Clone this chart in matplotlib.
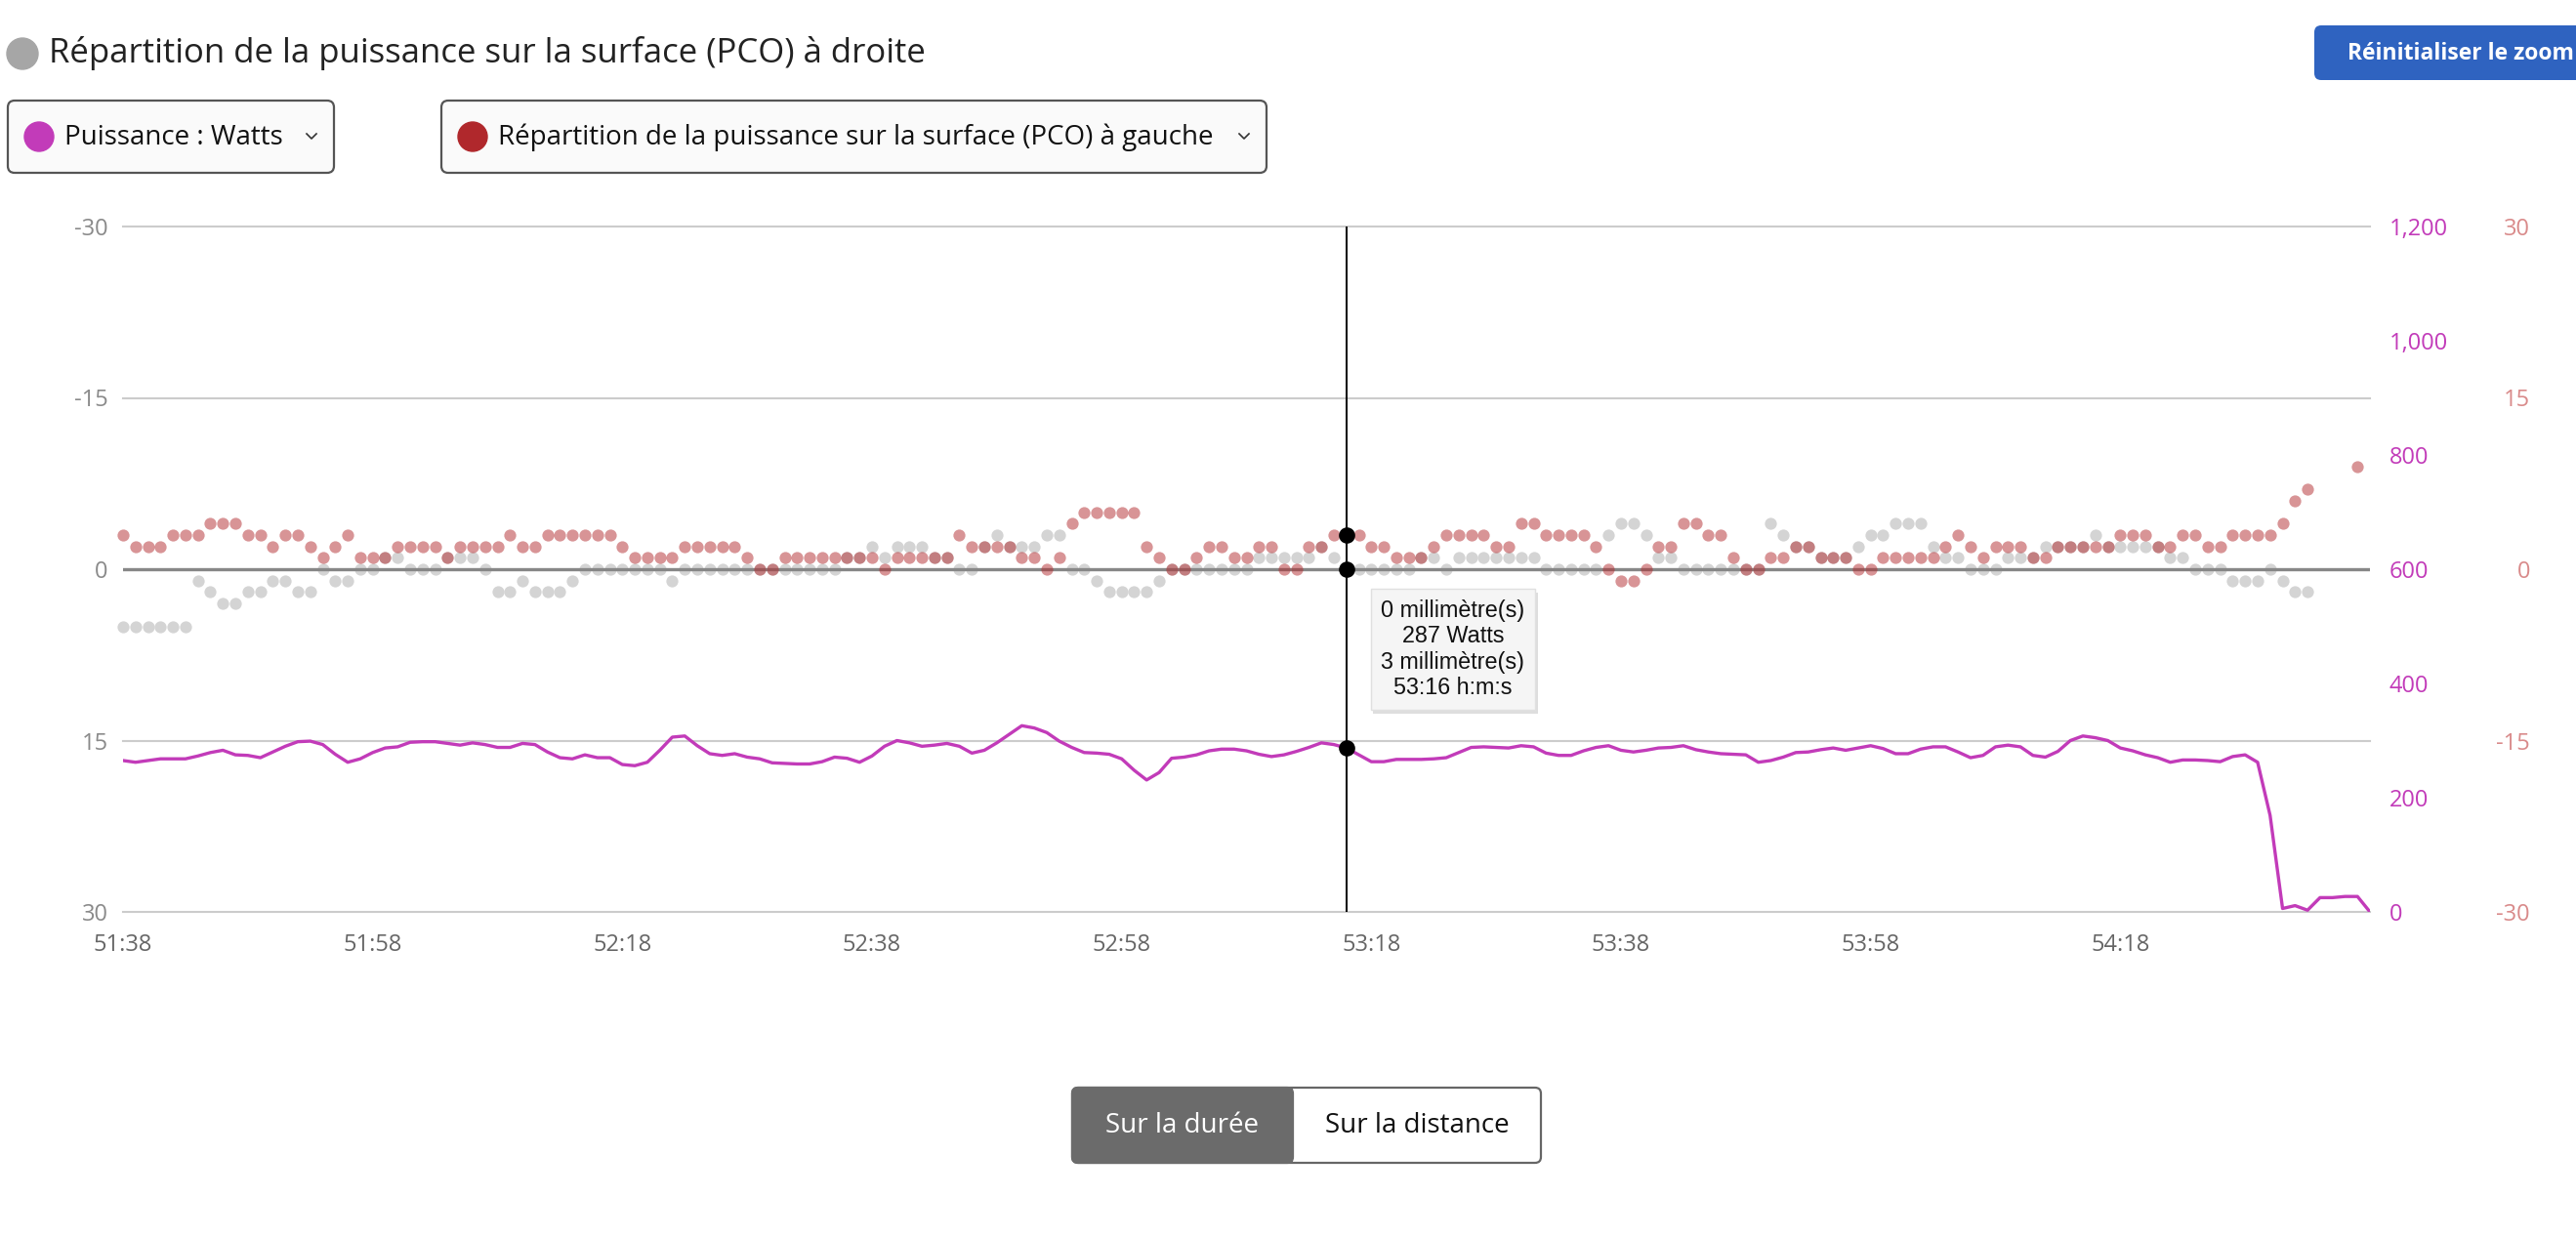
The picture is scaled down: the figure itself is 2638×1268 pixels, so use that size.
import numpy as np
import matplotlib.pyplot as plt
from matplotlib.patches import FancyBboxPatch, Circle, Rectangle
import matplotlib.patheffects as pe

plt.rcParams['font.family'] = ['Open Sans', 'DejaVu Sans']

W, H = 2638, 1268

# seconds since 51:38, one sample per second
power = [265, 262, 265, 268, 268, 268, 273, 279, 283, 275, 274, 270, 280, 290, 298, 299, 293, 276, 262, 268,
         279, 287, 289, 297, 298, 298, 295, 292, 296, 293, 288, 288, 295, 293, 280, 270, 268, 275, 270, 270,
         258, 256, 262, 283, 306, 308, 291, 277, 274, 277, 271, 268, 261, 260, 259, 259, 263, 271, 269, 262,
         273, 290, 300, 296, 290, 292, 295, 290, 278, 283, 296, 311, 326, 322, 314, 299, 288, 279, 278, 276,
         268, 248, 231, 244, 269, 271, 275, 282, 285, 285, 282, 276, 272, 275, 281, 288, 296, 293, 287, 275,
         263, 263, 267, 267, 267, 268, 270, 279, 288, 289, 288, 287, 291, 289, 278, 274, 274, 282, 288, 291,
         283, 280, 283, 287, 288, 291, 284, 280, 277, 276, 275, 262, 265, 271, 279, 280, 284, 287, 283, 287,
         291, 286, 277, 277, 285, 289, 289, 280, 270, 274, 289, 292, 289, 274, 271, 281, 300, 308, 305, 300,
         287, 282, 275, 270, 262, 266, 266, 265, 263, 272, 275, 262, 169, 6, 11, 3, 25, 25, 27, 27, 0]

# PCO droite (grey, left axis, inverted)
pco_right = [5, 5, 5, 5, 5, 5, 1, 2, 3, 3, 2, 2, 1, 1, 2, 2, 0, 1, 1, 0,
             0, -1, -1, 0, 0, 0, -1, -1, -1, 0, 2, 2, 1, 2, 2, 2, 1, 0, 0, 0,
             0, 0, 0, 0, 1, 0, 0, 0, 0, 0, 0, 0, 0, 0, 0, 0, 0, 0, -1, -1,
             -2, -1, -2, -2, -2, -1, -1, 0, 0, -2, -3, -2, -2, -2, -3, -3, 0, 0, 1, 2,
             2, 2, 2, 1, 0, 0, 0, 0, 0, 0, 0, -1, -1, -1, -1, -1, -2, -1, 0, 0,
             0, 0, 0, 0, -1, -1, 0, -1, -1, -1, -1, -1, -1, -1, 0, 0, 0, 0, 0, -3,
             -4, -4, -3, -1, -1, 0, 0, 0, 0, 0, 0, 0, -4, -3, -2, -2, -1, -1, -1, -2,
             -3, -3, -4, -4, -4, -2, -1, -1, 0, 0, 0, -1, -1, -1, -2, -2, -2, -2, -3, -2,
             -2, -2, -2, -2, -1, -1, 0, 0, 0, 1, 1, 1, 0, 1, 2, 2]

# PCO gauche (red, right axis)
pco_left = [3, 2, 2, 2, 3, 3, 3, 4, 4, 4, 3, 3, 2, 3, 3, 2, 1, 2, 3, 1,
            1, 1, 2, 2, 2, 2, 1, 2, 2, 2, 2, 3, 2, 2, 3, 3, 3, 3, 3, 3,
            2, 1, 1, 1, 1, 2, 2, 2, 2, 2, 1, 0, 0, 1, 1, 1, 1, 1, 1, 1,
            1, 0, 1, 1, 1, 1, 1, 3, 2, 2, 2, 2, 1, 1, 0, 1, 4, 5, 5, 5,
            5, 5, 2, 1, 0, 0, 1, 2, 2, 1, 1, 2, 2, 0, 0, 2, 2, 3, 3, 3,
            2, 2, 1, 1, 1, 2, 3, 3, 3, 3, 2, 2, 4, 4, 3, 3, 3, 3, 2, 0,
            -1, -1, 0, 2, 2, 4, 4, 3, 3, 1, 0, 0, 1, 1, 2, 2, 1, 1, 1, 0,
            0, 1, 1, 1, 1, 1, 2, 3, 2, 1, 2, 2, 2, 1, 1, 2, 2, 2, 2, 2,
            3, 3, 3, 2, 2, 3, 3, 2, 2, 3, 3, 3, 3, 4, 6, 7, None, None, None, 9]

x_ticks = [0, 20, 40, 60, 80, 100, 120, 140, 160]
x_labels = ['51:38', '51:58', '52:18', '52:38', '52:58', '53:18', '53:38', '53:58', '54:18']
mm_ticks = [-30, -15, 0, 15, 30]
watt_ticks = [0, 200, 400, 600, 800, 1000, 1200]
cursor = 98
cursor_label = '53:16'

t_power = np.arange(len(power))
t_right = np.arange(len(pco_right))
left = np.array([np.nan if v is None else v for v in pco_left], dtype=float)
t_left = np.arange(len(left))

c_power = '#c23bb9'
c_left = '#b22a2e'
c_grey = '#d4d4d4'

fig = plt.figure(figsize=(W / 100, H / 100), dpi=100)
ax = fig.add_axes([126 / W, 1 - 934 / H, (2427 - 126) / W, (934 - 232) / H])

# left axis: PCO droite, inverted
for v in [-30, -15, 15, 30]:
    ax.axhline(v, color='#cccccc', lw=1.5, zorder=1, clip_on=False)
ax.scatter(t_right, pco_right, s=78, color=c_grey, linewidths=0, zorder=2, clip_on=False)
ax.axhline(0, color='#878787', lw=2.4, zorder=3)
ax.set_xlim(0, 180)
ax.set_ylim(30, -30)
ax.set_yticks(mm_ticks)
ax.set_yticklabels([str(v) for v in mm_ticks])
ax.set_xticks(x_ticks)
ax.set_xticklabels(x_labels)
ax.tick_params(axis='y', length=0, pad=11, labelsize=17, labelcolor='#8a8a8a')
ax.tick_params(axis='x', length=0, pad=16, labelsize=17, labelcolor='#666666')

# power on the first right axis
ax2 = ax.twinx()
ax2.plot(t_power, power, color=c_power, lw=2.4, zorder=2)
ax2.set_ylim(0, 1200)
ax2.set_yticks(watt_ticks)
ax2.set_yticklabels([f'{v:,}' for v in watt_ticks])
ax2.tick_params(axis='y', length=0, pad=14, labelsize=17, labelcolor=c_power)

# PCO gauche on the second right axis
ax3 = ax.twinx()
ax3.scatter(t_left, left, s=78, color=c_left, alpha=0.5, linewidths=0, zorder=2, clip_on=False)
ax3.set_ylim(-30, 30)
ax3.set_yticks(mm_ticks)
ax3.set_yticklabels([str(v) for v in mm_ticks])
ax3.tick_params(axis='y', length=0, pad=118, labelsize=17, labelcolor='#d98a8a')
for lbl in ax3.get_yticklabels():
    lbl.set_horizontalalignment('right')

for a in (ax, ax2, ax3):
    for s in a.spines.values():
        s.set_visible(False)

# cursor + tooltip
ax3.axvline(cursor, color='black', lw=1.4, zorder=5)
ax.scatter([cursor], [pco_right[cursor]], s=120, color='black', zorder=6, clip_on=False)
ax2.scatter([cursor], [power[cursor]], s=120, color='black', zorder=6)
ax3.scatter([cursor], [left[cursor]], s=120, color='black', zorder=6)
tip = (f'{pco_right[cursor]} millimètre(s)\n{power[cursor]} Watts\n'
       f'{int(left[cursor])} millimètre(s)\n{cursor_label} h:m:s')
ann = ax3.annotate(tip, xy=(cursor, 0), xytext=(109, -82), textcoords='offset pixels',
                   ha='center', va='center', fontsize=16.8, family=['Liberation Sans', 'DejaVu Sans'],
                   linespacing=1.2, color='#111111', zorder=10,
                   bbox=dict(boxstyle='square,pad=0.45', fc='#f5f5f5', ec='#e0e0e0', lw=1))
ann.get_bbox_patch().set_path_effects([pe.SimplePatchShadow(offset=(2, -3), alpha=0.18), pe.Normal()])

# page elements around the chart
ui = fig.add_axes([0, 0, 1, 1], zorder=-1)
ui.set_xlim(0, W)
ui.set_ylim(H, 0)
ui.axis('off')

ui.add_patch(Circle((23, 55), 16, color='#a6a6a6'))
ui.text(50, 55, 'Répartition de la puissance sur la surface (PCO) à droite',
        fontsize=25, va='center', ha='left', color='#222222')


def dropdown(x0, w, dot, label):
    ui.add_patch(FancyBboxPatch((x0, 103), w, 74, boxstyle='round,pad=0,rounding_size=7',
                                fc='#fafafa', ec='#555555', lw=1.6))
    ui.add_patch(Circle((x0 + 32, 140), 15, color=dot))
    ui.text(x0 + 58, 141, label, fontsize=20, va='center', ha='left', color='#111111')
    cx = x0 + w - 23
    ui.plot([cx - 5, cx, cx + 5], [137, 142, 137], color='#333333', lw=1.2)


dropdown(8, 334, c_power, 'Puissance : Watts')
dropdown(452, 845, '#b0282c', 'Répartition de la puissance sur la surface (PCO) à gauche')

ui.add_patch(FancyBboxPatch((2370, 26), 300, 56, boxstyle='round,pad=0,rounding_size=7',
                            fc='#2f63c0', ec='none'))
ui.text(2404, 55, 'Réinitialiser le zoom', fontsize=16.5, fontweight='bold',
        color='white', va='center', ha='left')

ui.add_patch(FancyBboxPatch((1098, 1114), 480, 77, boxstyle='round,pad=0,rounding_size=6',
                            fc='white', ec='#666666', lw=1.6))
ui.add_patch(FancyBboxPatch((1098, 1114), 226, 77, boxstyle='round,pad=0,rounding_size=6',
                            fc='#6b6b6b', ec='#6b6b6b', lw=1.6))
ui.add_patch(Rectangle((1300, 1114), 24, 77, fc='#6b6b6b', ec='none'))
ui.text(1211, 1153, 'Sur la durée', fontsize=20, color='white', va='center', ha='center')
ui.text(1451, 1153, 'Sur la distance', fontsize=20, color='#111111', va='center', ha='center')

fig.savefig('out.png', dpi=100)
